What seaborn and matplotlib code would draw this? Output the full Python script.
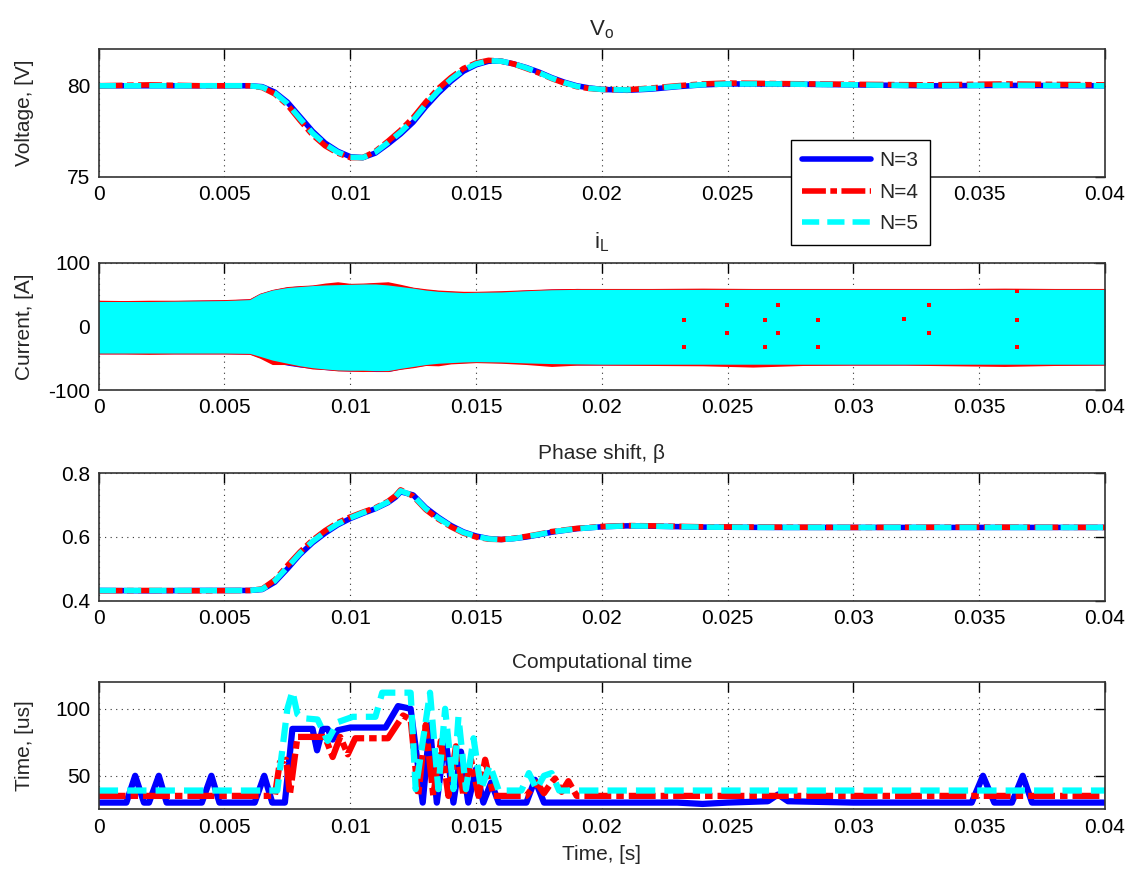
import numpy as np
import pandas as pd
import matplotlib
matplotlib.use("Agg")
import matplotlib.pyplot as plt
from matplotlib.ticker import FixedLocator, FuncFormatter
import seaborn as sns

# ---------------- data ----------------
x_ticks = [0, 0.005, 0.01, 0.015, 0.02, 0.025, 0.03, 0.035, 0.04]
x_tick_labels = ["0", "0.005", "0.01", "0.015", "0.02", "0.025", "0.03", "0.035", "0.04"]
series_labels = ["N=3", "N=4", "N=5"]

# Panel 1: output voltage Vo
t_vo = [0, 0.002, 0.004, 0.006, 0.0065, 0.007, 0.0075, 0.008, 0.0085, 0.009,
        0.0095, 0.010, 0.0105, 0.011, 0.0115, 0.012, 0.0125, 0.013, 0.0135, 0.014,
        0.0145, 0.015, 0.0155, 0.016, 0.0165, 0.017, 0.0175, 0.018, 0.0185, 0.019,
        0.0195, 0.020, 0.021, 0.022, 0.023, 0.024, 0.025, 0.027, 0.030, 0.033,
        0.036, 0.040]
vo_n3 = [80.0, 80.0, 80.0, 80.0, 79.95, 79.65, 79.1, 78.3, 77.5, 76.85,
         76.4, 76.1, 76.05, 76.3, 76.8, 77.35, 78.0, 78.85, 79.6, 80.25,
         80.8, 81.15, 81.35, 81.35, 81.2, 81.0, 80.75, 80.45, 80.2, 80.0,
         79.88, 79.8, 79.75, 79.82, 79.95, 80.05, 80.1, 80.1, 80.05, 80.0,
         80.02, 80.0]
vo_n4 = [80.0, 80.05, 80.0, 80.0, 79.9, 79.55, 78.95, 78.1, 77.3, 76.7,
         76.3, 76.05, 76.05, 76.4, 76.95, 77.55, 78.25, 79.1, 79.85, 80.45,
         80.95, 81.25, 81.4, 81.35, 81.2, 80.95, 80.7, 80.4, 80.15, 79.95,
         79.85, 79.8, 79.78, 79.88, 80.0, 80.1, 80.15, 80.12, 80.08, 80.05,
         80.1, 80.05]
vo_n5 = [80.0, 80.0, 80.0, 80.0, 79.92, 79.6, 79.02, 78.2, 77.4, 76.78,
         76.35, 76.07, 76.05, 76.35, 76.88, 77.45, 78.12, 78.97, 79.72, 80.35,
         80.87, 81.2, 81.37, 81.35, 81.2, 80.98, 80.72, 80.42, 80.17, 79.97,
         79.86, 79.8, 79.77, 79.85, 79.97, 80.06, 80.1, 80.1, 80.05, 80.0,
         80.03, 80.0]

# Panel 2: inductor current iL, ripple envelope (upper / lower)
t_il = [0, 0.001, 0.002, 0.003, 0.004, 0.005, 0.006, 0.0064, 0.0069, 0.0075,
        0.008, 0.0085, 0.009, 0.0095, 0.010, 0.0105, 0.011, 0.0115, 0.012, 0.0125,
        0.013, 0.0135, 0.014, 0.0145, 0.015, 0.016, 0.017, 0.018, 0.019, 0.020,
        0.022, 0.024, 0.026, 0.028, 0.030, 0.032, 0.034, 0.036, 0.038, 0.040]
il_up_n3 = [40.5, 40, 40.5, 40.5, 41, 41.5, 43, 51.5, 57.5, 62,
            63.5, 64.5, 66.5, 68, 67, 67, 68, 69, 64.5, 61,
            58, 56, 55, 54, 54.5, 55, 57, 58.5, 59.5, 59,
            59, 59, 59, 59, 59, 59, 59, 59, 59, 59]
il_lo_n3 = [-43, -43, -43, -43, -43, -43, -43.5, -49, -56, -61,
            -64, -66, -68, -69.5, -70, -70, -71, -71, -67, -64,
            -61, -59, -58, -57, -56.5, -57, -58.5, -60, -60.5, -60.5,
            -60.5, -61, -60.5, -60.5, -60.5, -60.5, -60.5, -60.5, -60.5, -60.5]
il_up_n4 = [41, 40.5, 41, 41, 41.5, 42, 43.5, 52, 58, 62.5,
            64, 65, 68, 70, 67.5, 68, 69, 70, 66, 61.5,
            59, 57, 56, 55, 55, 56, 57.5, 59, 59.5, 59.5,
            59.5, 60, 59.5, 59.5, 59.5, 59.5, 59.5, 60, 59.5, 59.5]
il_lo_n4 = [-43.5, -43.5, -44, -43.5, -43.5, -43.5, -44, -50, -60, -60,
            -63.5, -67, -68, -70, -70.5, -71, -70.5, -71, -67.5, -65,
            -61.5, -62, -59, -58, -57, -58, -60, -63, -61, -61,
            -61.5, -62, -64, -61.5, -61, -61, -62, -63, -61.5, -61]
il_up_n5 = [39, 39, 39, 39.5, 40, 40.5, 42, 51, 57, 61,
            62.5, 64, 65, 65.5, 66, 66.5, 66.5, 65, 62.5, 60,
            57, 55, 54, 53, 53.5, 54, 56, 57.5, 58, 58,
            58, 58, 58, 58, 58, 58, 58, 58, 58, 58]
il_lo_n5 = [-42, -42, -42, -42, -42, -42, -42.5, -47, -53, -58,
            -62, -65, -67, -68.5, -69, -69, -69.5, -69.5, -66, -63,
            -60, -58, -57, -56, -55.5, -56, -57.5, -58.5, -59, -59.5,
            -59.5, -59.5, -59.5, -59.5, -59.5, -59.5, -59.5, -59.5, -59.5, -59.5]
# isolated N=4 samples visible through the N=5 band
il_spot_t = [0.02328, 0.02328, 0.02499, 0.02499, 0.02647, 0.02647, 0.02701, 0.02701,
             0.02861, 0.02861, 0.0320, 0.0330, 0.0330, 0.0365, 0.0365, 0.0365]
il_spot_v = [10, -32, 33, -11, 10, -32, 33, -11, 10, -32, 12, 33, -11, 10, -32, 55]

# Panel 3: phase shift beta
t_b = [0, 0.002, 0.004, 0.006, 0.0065, 0.007, 0.0075, 0.008, 0.0085, 0.009,
       0.0095, 0.010, 0.0105, 0.011, 0.0115, 0.0118, 0.012, 0.0125, 0.013, 0.0135,
       0.014, 0.0145, 0.015, 0.0155, 0.016, 0.0165, 0.017, 0.0175, 0.018, 0.019,
       0.020, 0.021, 0.022, 0.024, 0.027, 0.030, 0.035, 0.040]
b_n3 = [0.432, 0.431, 0.432, 0.432, 0.435, 0.458, 0.50, 0.545, 0.582, 0.612,
        0.638, 0.658, 0.674, 0.689, 0.708, 0.725, 0.742, 0.732, 0.692, 0.662,
        0.636, 0.616, 0.603, 0.595, 0.592, 0.595, 0.600, 0.607, 0.615, 0.626,
        0.632, 0.635, 0.634, 0.631, 0.630, 0.630, 0.630, 0.630]
b_n4 = [0.431, 0.432, 0.431, 0.432, 0.437, 0.465, 0.51, 0.553, 0.59, 0.62,
        0.645, 0.663, 0.678, 0.692, 0.712, 0.73, 0.748, 0.728, 0.686, 0.656,
        0.632, 0.612, 0.600, 0.593, 0.592, 0.596, 0.602, 0.609, 0.617, 0.627,
        0.633, 0.636, 0.635, 0.632, 0.631, 0.630, 0.631, 0.630]
b_n5 = [0.432, 0.432, 0.432, 0.432, 0.436, 0.462, 0.505, 0.549, 0.586, 0.616,
        0.641, 0.66, 0.676, 0.69, 0.71, 0.727, 0.745, 0.73, 0.689, 0.659,
        0.634, 0.614, 0.602, 0.594, 0.592, 0.595, 0.601, 0.608, 0.616, 0.626,
        0.632, 0.635, 0.634, 0.631, 0.630, 0.630, 0.630, 0.630]

# Panel 4: computational time [us]
tc_n3 = [0, 0.0011, 0.00145, 0.0018, 0.0020, 0.00239, 0.0027, 0.0041, 0.00448, 0.0048,
         0.0062, 0.00658, 0.0069, 0.0074, 0.0077, 0.0085, 0.00868, 0.0089, 0.0091, 0.0093,
         0.0095, 0.0100, 0.0114, 0.0119, 0.0124, 0.01288, 0.01316, 0.01344, 0.01377, 0.0141,
         0.0144, 0.01469, 0.0150, 0.01529, 0.0156, 0.0159, 0.0170, 0.01734, 0.0177, 0.0190,
         0.0230, 0.0240, 0.0250, 0.0266, 0.0270, 0.0274, 0.0300, 0.0347, 0.03515, 0.0356,
         0.0363, 0.03673, 0.0371, 0.0400]
ct_n3 = [30, 30, 50, 30, 30, 50, 30, 30, 50, 30,
         30, 50, 30, 30, 85, 85, 69, 85, 85, 77,
         84, 86, 86, 102, 100, 30, 88, 30, 80, 30,
         68, 30, 55, 30, 45, 30, 30, 47, 30, 30,
         30, 29, 30, 31, 36, 31, 30, 30, 50, 30,
         30, 50, 30, 30]
tc_n4 = [0, 0.0070, 0.0072, 0.00745, 0.0076, 0.0079, 0.0090, 0.0093, 0.0096, 0.0099,
         0.0102, 0.0115, 0.0121, 0.0124, 0.0127, 0.0130, 0.0133, 0.0136, 0.0139, 0.0142,
         0.0145, 0.0148, 0.0151, 0.01536, 0.0157, 0.0170, 0.0174, 0.0177, 0.0180, 0.01814,
         0.0184, 0.01867, 0.0190, 0.0400]
ct_n4 = [35, 35, 60, 62, 36, 79, 79, 64, 79, 66,
         78, 78, 95, 92, 35, 88, 35, 76, 35, 72,
         35, 62, 35, 62, 35, 35, 45, 37, 45, 48,
         38, 46, 35, 35]
tc_n5 = [0, 0.0071, 0.0075, 0.0077, 0.0079, 0.0081, 0.0087, 0.0091, 0.0095, 0.0101,
         0.0110, 0.01127, 0.0124, 0.0126, 0.01317, 0.0135, 0.01377, 0.0141, 0.0143, 0.0146,
         0.0149, 0.0152, 0.01555, 0.0159, 0.0168, 0.0171, 0.0174, 0.0177, 0.0180, 0.0183,
         0.0400]
ct_n5 = [39, 39, 100, 113, 96, 93, 92, 76, 90, 94,
         94, 112, 112, 40, 112, 40, 100, 40, 94, 40,
         78, 40, 58, 39, 39, 52, 40, 50, 52, 39,
         39]

# ---------------- style ----------------
sns.set_theme(style="white")
plt.rcParams["font.family"] = ["Liberation Sans", "DejaVu Sans"]
plt.rcParams["mathtext.fontset"] = "custom"
plt.rcParams["mathtext.rm"] = "Liberation Sans"

FS = 15
BLUE, RED, CYAN = "#0000FF", "#FF0000", "#00FFFF"
LW = 4
STYLES = [
    dict(color=BLUE, linestyle="-"),
    dict(color=RED, linestyle=(0, (4.3, 0.8, 1.2, 0.8))),
    dict(color=CYAN, linestyle=(0, (3.1, 1.45))),
]

fig = plt.figure(figsize=(11.33, 8.77), dpi=100)
left, width, height = 0.0871, 0.8882, 0.1452
bottoms = [0.7985, 0.5553, 0.3151, 0.0772]
axes = [fig.add_axes([left, b, width, height]) for b in bottoms]


def style_axes(ax, ylim, yticks):
    ax.set_xlim(0, 0.04)
    ax.set_ylim(*ylim)
    ax.xaxis.set_major_locator(FixedLocator(x_ticks))
    ax.set_xticklabels(x_tick_labels)
    ax.yaxis.set_major_locator(FixedLocator(yticks))
    ax.yaxis.set_major_formatter(FuncFormatter(lambda v, p: "%g" % v))
    ax.tick_params(direction="in", top=True, right=True, length=7, width=1,
                   labelsize=FS, pad=6, colors="black")
    ax.grid(True, linestyle=(0, (1, 4)), color="#333333", linewidth=0.8)
    for s in ax.spines.values():
        s.set_color("#333333")
        s.set_linewidth(1.2)
    ax.set_xlabel("")
    ax.set_ylabel("")
    ax.yaxis.set_label_coords(-0.064, 0.5)


# Panel 1
ax = axes[0]
for v, lab, st in zip([vo_n3, vo_n4, vo_n5], series_labels, STYLES):
    sns.lineplot(x=t_vo, y=v, ax=ax, linewidth=LW, estimator=None, sort=False,
                 legend=False, label=lab, **st)
style_axes(ax, (75, 82), [75, 80])
ax.set_ylabel("Voltage, [V]", fontsize=FS)
ax.set_title(r"$\mathregular{V_o}$", fontsize=FS + 1, pad=10)
handles, labels = ax.get_legend_handles_labels()

# Panel 2
ax = axes[1]
for up, lo, c in [(il_up_n3, il_lo_n3, BLUE), (il_up_n4, il_lo_n4, RED), (il_up_n5, il_lo_n5, CYAN)]:
    ax.fill_between(t_il, lo, up, color=c, linewidth=0)
sns.scatterplot(x=il_spot_t, y=il_spot_v, ax=ax, color=RED, marker="s", s=10,
                linewidth=0, legend=False, zorder=3)
style_axes(ax, (-100, 100), [-100, 0, 100])
ax.set_ylabel("Current, [A]", fontsize=FS)
ax.set_title(r"$\mathregular{i_L}$", fontsize=FS + 1, pad=10)

# Panel 3
ax = axes[2]
for v, st in zip([b_n3, b_n4, b_n5], STYLES):
    sns.lineplot(x=t_b, y=v, ax=ax, linewidth=LW, estimator=None, sort=False,
                 legend=False, **st)
style_axes(ax, (0.4, 0.8), [0.4, 0.6, 0.8])
ax.set_title("Phase shift, β", fontsize=FS, pad=10)

# Panel 4
ax = axes[3]
for tt, v, st in zip([tc_n3, tc_n4, tc_n5], [ct_n3, ct_n4, ct_n5], STYLES):
    sns.lineplot(x=tt, y=v, ax=ax, linewidth=LW + 0.5, estimator=None, sort=False,
                 legend=False, **st)
style_axes(ax, (25, 120), [50, 100])
ax.set_ylabel("Time, [us]", fontsize=FS)
ax.set_title("Computational time", fontsize=FS, pad=10)
ax.set_xlabel("Time, [s]", fontsize=FS, labelpad=6)

leg = fig.legend(handles, labels, loc="upper left",
                 bbox_to_anchor=(791 / 1133, 1 - 140 / 877),
                 bbox_transform=fig.transFigure, borderaxespad=0,
                 fontsize=FS, handlelength=3.3, handletextpad=0.4,
                 labelspacing=0.6, borderpad=0.55, fancybox=False,
                 framealpha=1, edgecolor="black")
leg.get_frame().set_linewidth(1.0)

fig.savefig("out.png", dpi=100)
